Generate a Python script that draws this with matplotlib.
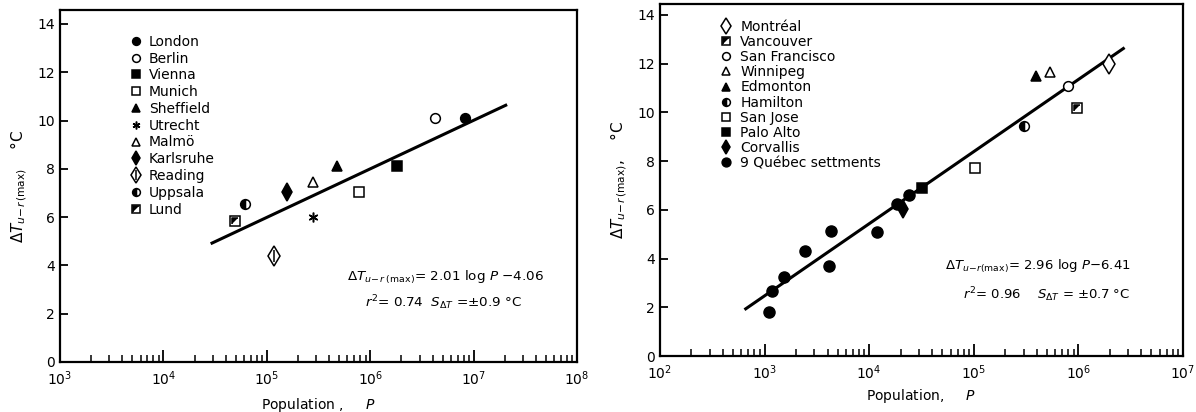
import matplotlib.pyplot as plt
from matplotlib.legend_handler import HandlerTuple
import numpy as np

# left panel: European cities
eu_cities = ['London', 'Berlin', 'Vienna', 'Munich', 'Sheffield', 'Utrecht',
             'Malmö', 'Karlsruhe', 'Reading', 'Uppsala', 'Lund']
eu_pop = [8.3e6, 4.2e6, 1.8e6, 7.8e5, 4.8e5, 2.8e5, 2.8e5, 1.56e5, 1.17e5, 6.2e4, 4.9e4]
eu_dt = [10.1, 10.1, 8.1, 7.05, 8.1, 6.0, 7.45, 7.05, 4.4, 6.55, 5.85]
eu_fit = (2.01, -4.06)
eu_fit_range = (4.47, 7.31)

# right panel: North American cities
na_cities = ['Montréal', 'Vancouver', 'San Francisco', 'Winnipeg', 'Edmonton',
             'Hamilton', 'San Jose', 'Palo Alto', 'Corvallis']
na_pop = [1.95e6, 9.7e5, 7.9e5, 5.4e5, 3.9e5, 3.0e5, 1.02e5, 3.2e4, 2.1e4]
na_dt = [12.0, 10.2, 11.1, 11.65, 11.5, 9.45, 7.7, 6.9, 6.05]
quebec_pop = [1.1e3, 1.17e3, 1.55e3, 2.46e3, 4.1e3, 4.3e3, 1.2e4, 1.85e4, 2.4e4]
quebec_dt = [1.8, 2.65, 3.25, 4.3, 3.7, 5.15, 5.1, 6.25, 6.6]
na_fit = (2.96, -6.41)
na_fit_range = (2.82, 6.43)

K = 'black'
W = 'white'
tri = [(-1, -1), (-1, 1), (1, 1)]  # upper-left half of a square

# marker styles: list of layers (overlaid)
styles = {
    'London': [dict(marker='o', mfc=K)],
    'Berlin': [dict(marker='o', mfc=W)],
    'Vienna': [dict(marker='s', mfc=K)],
    'Munich': [dict(marker='s', mfc=W)],
    'Sheffield': [dict(marker='^', mfc=K)],
    'Utrecht': [dict(marker=(6, 2, 0), mfc=K, ms=7)],
    'Malmö': [dict(marker='^', mfc=W)],
    'Karlsruhe': [dict(marker='d', mfc=K, ms=9)],
    'Reading': [dict(marker='d', mfc=W, ms=10), dict(marker='|', mfc=W, ms=9)],
    'Uppsala': [dict(marker='o', mfc=K, fillstyle='left', mfcalt=W)],
    'Lund': [dict(marker='s', mfc=W), dict(marker=tri, mfc=K, ms=5)],
    'Montréal': [dict(marker='d', mfc=W, ms=10)],
    'Vancouver': [dict(marker='s', mfc=W), dict(marker=tri, mfc=K, ms=5)],
    'San Francisco': [dict(marker='o', mfc=W)],
    'Winnipeg': [dict(marker='^', mfc=W)],
    'Edmonton': [dict(marker='^', mfc=K)],
    'Hamilton': [dict(marker='o', mfc=K, fillstyle='left', mfcalt=W)],
    'San Jose': [dict(marker='s', mfc=W)],
    'Palo Alto': [dict(marker='s', mfc=K)],
    'Corvallis': [dict(marker='d', mfc=K, ms=9)],
}


def draw_city(ax, name, x, y):
    handles = []
    for st in styles[name]:
        st = dict(st)
        ms = st.pop('ms', 7)
        mfcalt = st.pop('mfcalt', None)
        kw = dict(ls='none', mec=K, color=K, ms=ms, mew=1.1, zorder=4)
        if mfcalt is not None:
            kw['markerfacecoloralt'] = mfcalt
        kw['markerfacecolor'] = st.pop('mfc')
        kw.update(st)
        h, = ax.plot(x, y, **kw)
        handles.append(h)
    return tuple(handles)


def style_axes(ax, xmin, xmax, ymax):
    ax.set_xscale('log')
    ax.set_xlim(xmin, xmax)
    ax.set_ylim(0, ymax)
    ax.set_yticks(range(0, 15, 2))
    for s in ax.spines.values():
        s.set_linewidth(1.6)
    ax.tick_params(axis='x', which='major', direction='in', length=9, width=1.3,
                   labelsize=10, pad=5)
    ax.tick_params(axis='x', which='minor', direction='in', length=5, width=1.1)
    ax.tick_params(axis='y', direction='in', length=6, width=1.3, labelsize=10)


plt.rcParams['font.family'] = ['DejaVu Sans']
plt.rcParams['mathtext.fontset'] = 'dejavusans'

fig = plt.figure(figsize=(11.96, 4.12), dpi=100)
hmap = {tuple: HandlerTuple(ndivide=1)}

# ---------- left panel
ax1 = fig.add_axes([0.0502, 0.1214, 0.4323, 0.8544])
style_axes(ax1, 1e3, 1e8, 14.58)
hs = []
for name, x, y in zip(eu_cities, eu_pop, eu_dt):
    hs.append(draw_city(ax1, name, x, y))
lx = np.linspace(*eu_fit_range, 50)
ax1.plot(10 ** lx, eu_fit[0] * lx + eu_fit[1], color=K, lw=2.2, zorder=3)
ax1.legend(hs, eu_cities, handler_map=hmap, markerscale=0.8,
           loc='upper left', bbox_to_anchor=(0.11, 0.965), frameon=False,
           fontsize=10, labelspacing=0.2, handlelength=1.0, handletextpad=0.4)
ax1.text(0.555, 0.23, r'$\Delta T_{u\!-\!r\ (\mathrm{max})}$= 2.01 log $P$ $-$4.06',
         transform=ax1.transAxes, fontsize=9.7)
ax1.text(0.59, 0.155, r'$r^2$= 0.74  $S_{\Delta T}$ =$\pm$0.9 °C',
         transform=ax1.transAxes, fontsize=9.7)
ax1.set_xlabel(r'Population ,     $P$', fontsize=10, labelpad=6)
ax1.set_ylabel(r'$\Delta T_{u\!-\!r\,(\mathrm{max})}$    °C', fontsize=11, labelpad=6)

# ---------- right panel
ax2 = fig.add_axes([0.5518, 0.1359, 0.4373, 0.8544])
style_axes(ax2, 1e2, 1e7, 14.45)
hs = []
for name, x, y in zip(na_cities, na_pop, na_dt):
    hs.append(draw_city(ax2, name, x, y))
hq, = ax2.plot(quebec_pop, quebec_dt, ls='none', marker='o', ms=8, color=K, zorder=4)
hs.append((hq,))
lx = np.linspace(*na_fit_range, 50)
ax2.plot(10 ** lx, na_fit[0] * lx + na_fit[1], color=K, lw=2.2, zorder=3)
ax2.legend(hs, na_cities + ['9 Québec settments'], handler_map=hmap, markerscale=0.8,
           loc='upper left', bbox_to_anchor=(0.09, 0.99), frameon=False,
           fontsize=10, labelspacing=0.08, handlelength=1.0, handletextpad=0.5)
ax2.text(0.545, 0.245, r'$\Delta T_{u\!-\!r(\mathrm{max})}$= 2.96 log $P$$-$6.41',
         transform=ax2.transAxes, fontsize=9.5)
ax2.text(0.58, 0.16, r'$r^2$= 0.96    $S_{\Delta T}$ = $\pm$0.7 °C',
         transform=ax2.transAxes, fontsize=9.5)
ax2.set_xlabel(r'Population,     $P$', fontsize=10, labelpad=4)
ax2.set_ylabel(r'$\Delta T_{u\!-\!r\,(\mathrm{max})}$,    °C', fontsize=11, labelpad=6)

fig.savefig('out.png', dpi=100)
